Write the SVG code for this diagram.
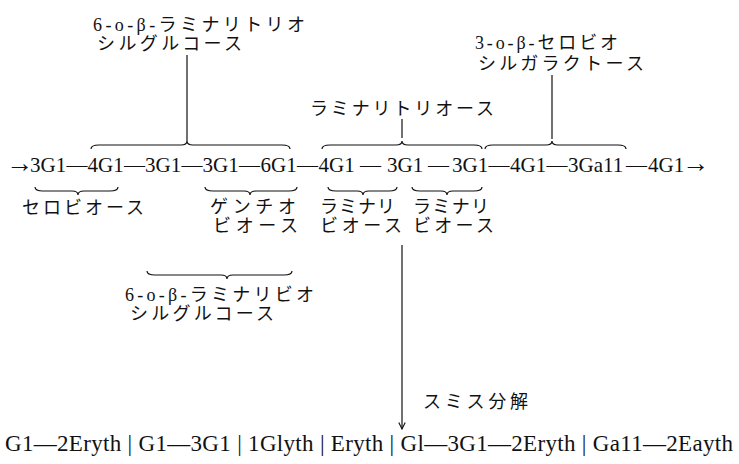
<svg xmlns="http://www.w3.org/2000/svg" width="739" height="464" viewBox="0 0 739 464">
<defs>
<style>
.lbl{font-family:"Liberation Serif","Noto Sans CJK JP",serif;font-size:18px;fill:#111}
.chain{font-family:"Liberation Serif","Noto Sans CJK JP",serif;font-size:21px;fill:#111}
.arr{font-size:27px}
.prod{font-family:"Liberation Serif","Noto Sans CJK JP",serif;font-size:23px;fill:#111}
.br{fill:none;stroke:#111;stroke-width:1.2}
.ln{fill:none;stroke:#111;stroke-width:1.2}
</style>
<marker id="ah" viewBox="0 0 10 10" refX="9" refY="5" markerWidth="9" markerHeight="8" markerUnits="userSpaceOnUse" orient="auto">
<path d="M1,1 L9,5 L1,9" fill="none" stroke="#111" stroke-width="1.4"/>
</marker>
</defs>
<rect width="739" height="464" fill="#fff"/>

<g id="chain">
<text class="chain" y="172"><tspan class="arr" x="6">→</tspan><tspan x="30">3G1</tspan><tspan x="66.5">—</tspan><tspan x="87.5">4G1</tspan><tspan x="124">—</tspan><tspan x="145">3G1</tspan><tspan x="181.5">—</tspan><tspan x="202.5">3G1</tspan><tspan x="239">—</tspan><tspan x="260.5">6G1</tspan><tspan x="297">—</tspan><tspan x="318.5">4G1</tspan><tspan x="360">—</tspan><tspan x="387">3G1</tspan><tspan x="428">—</tspan><tspan x="452">3G1</tspan><tspan x="488.5">—</tspan><tspan x="510">4G1</tspan><tspan x="546.5">—</tspan><tspan x="568">3Ga11</tspan><tspan x="626">—</tspan><tspan x="648">4G1</tspan><tspan class="arr" x="682">→</tspan></text>
</g>

<g id="laminaritriosylglucose">
<text class="lbl" x="93" y="31" textLength="212" lengthAdjust="spacing">6-o-β-ラミナリトリオ</text>
<text class="lbl" x="97" y="50" textLength="145" lengthAdjust="spacing">シルグルコース</text>
</g>
<g id="laminaritriose">
<text class="lbl" x="310" y="115" textLength="184" lengthAdjust="spacing">ラミナリトリオース</text>
</g>
<g id="cellobiosylgalactose">
<text class="lbl" x="475" y="49" textLength="143" lengthAdjust="spacing">3-o-β-セロビオ</text>
<text class="lbl" x="478" y="70" textLength="166" lengthAdjust="spacing">シルガラクトース</text>
</g>
<g id="cellobiose">
<text class="lbl" x="22" y="214" textLength="122" lengthAdjust="spacing">セロビオース</text>
</g>
<g id="gentiobiose">
<text class="lbl" x="210" y="213" textLength="86" lengthAdjust="spacing">ゲンチオ</text>
<text class="lbl" x="213" y="232" textLength="85" lengthAdjust="spacing">ビオース</text>
</g>
<g id="laminaribiose1">
<text class="lbl" x="320" y="213" textLength="75" lengthAdjust="spacing">ラミナリ</text>
<text class="lbl" x="320" y="232" textLength="82" lengthAdjust="spacing">ビオース</text>
</g>
<g id="laminaribiose2">
<text class="lbl" x="413" y="213" textLength="76" lengthAdjust="spacing">ラミナリ</text>
<text class="lbl" x="413" y="232" textLength="81" lengthAdjust="spacing">ビオース</text>
</g>
<g id="laminaribiosylglucose">
<text class="lbl" x="125" y="301" textLength="189" lengthAdjust="spacing">6-o-β-ラミナリビオ</text>
<text class="lbl" x="130" y="320" textLength="144" lengthAdjust="spacing">シルグルコース</text>
</g>
<g id="smith">
<text class="lbl" x="423" y="408" textLength="105" lengthAdjust="spacing">スミス分解</text>
</g>
<g id="products">
<text class="prod" x="5" y="451" textLength="728" lengthAdjust="spacing">G1—2Eryth | G1—3G1 | 1Glyth | Eryth | Gl—3G1—2Eryth | Ga11—2Eayth</text>
</g>

<g id="connectors">
<path class="br" d="M91,149 Q91,145 99,145 L181,145 Q187,145 187,141 Q187,145 193,145 L282,145 Q290,145 290,149"/>
<path class="br" d="M322,149 Q322,145 330,145 L396,145 Q402,145 402,141 Q402,145 408,145 L474,145 Q482,145 482,149"/>
<path class="br" d="M485,149 Q485,145 493,145 L546,145 Q552,145 552,141 Q552,145 558,145 L618,145 Q626,145 626,149"/>
<path class="br" d="M35,187 Q35,191 43,191 L72,191 Q78,191 78,195 Q78,191 84,191 L110,191 Q118,191 118,187"/>
<path class="br" d="M205,187 Q205,191 213,191 L244,191 Q250,191 250,195 Q250,191 256,191 L289,191 Q297,191 297,187"/>
<path class="br" d="M328,187 Q328,191 336,191 L357,191 Q363,191 363,195 Q363,191 369,191 L389,191 Q397,191 397,187"/>
<path class="br" d="M412,187 Q412,191 420,191 L441,191 Q447,191 447,195 Q447,191 453,191 L474,191 Q482,191 482,187"/>
<path class="br" d="M147,271 Q147,275 155,275 L221,275 Q227,275 227,279 Q227,275 233,275 L284,275 Q292,275 292,271"/>
<path class="ln" d="M187,55 V141"/>
<path class="ln" d="M402,119 V138"/>
<path class="ln" d="M552,75 V139"/>
<path class="ln" d="M402,245 V429" marker-end="url(#ah)"/>
</g>
</svg>
